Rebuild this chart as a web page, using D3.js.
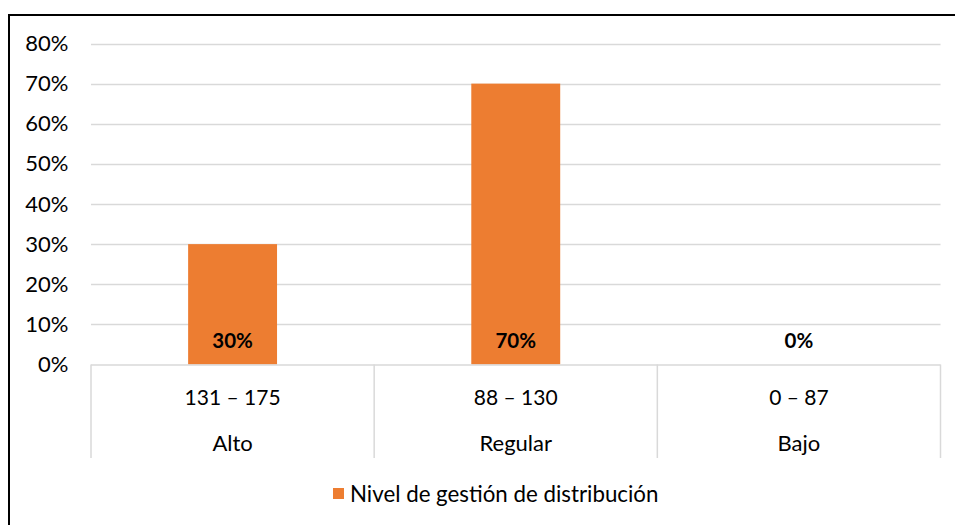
<!DOCTYPE html>
<html><head><meta charset="utf-8">
<script src="https://cdn.jsdelivr.net/npm/d3@7"></script>
<style>body{margin:0;background:#fff}svg{display:block}text{font-family:Lato,"Noto Sans",sans-serif}</style>
</head><body><svg id="c" width="955" height="525"></svg>
<script>
const levels = ["Alto", "Regular", "Bajo"];
const ranges = ["131 – 175", "88 – 130", "0 – 87"];
const values = [0.30, 0.70, 0.00];
const yTicks = [0, 0.1, 0.2, 0.3, 0.4, 0.5, 0.6, 0.7, 0.8];
const seriesName = "Nivel de gestión de distribución";

const svg = d3.select("#c");
const W = 955, H = 525;
svg.append("rect").attr("x", 0).attr("y", 0).attr("width", W).attr("height", H).attr("fill", "#fff");
svg.append("path").attr("d", `M9,${H+5} L9,15 L${W+5},15`).attr("fill", "none").attr("stroke", "#000").attr("stroke-width", 2);

const x = d3.scaleBand().domain(levels).range([91, 940.5]).padding(0);
const y = d3.scaleLinear().domain([0, 0.8]).range([364.5, 43.5]);
const barFrac = 0.314;

svg.append("g").selectAll("line").data(yTicks.filter(d => d > 0)).join("line")
  .attr("x1", 91).attr("x2", 940.5)
  .attr("y1", d => Math.round(y(d)) + 0.5).attr("y2", d => Math.round(y(d)) + 0.5)
  .attr("stroke", "#d9d9d9").attr("stroke-width", 1.5);

const ya = svg.append("g").attr("transform", "translate(68.5,0)")
  .call(d3.axisLeft(y).tickValues(yTicks).tickSize(0).tickPadding(0).tickFormat(d3.format(".0%")));
ya.select(".domain").remove();
ya.selectAll("text").attr("font-size", 22).attr("fill", "#000").attr("font-family", "Lato");

svg.append("g").selectAll("rect").data(levels).join("rect")
  .attr("x", (d) => x(d) + x.bandwidth() * (1 - barFrac) / 2)
  .attr("width", x.bandwidth() * barFrac)
  .attr("y", (d, i) => y(values[i]))
  .attr("height", (d, i) => y(0) - y(values[i]))
  .attr("fill", "#ed7d31");

svg.append("line").attr("x1", 91).attr("x2", 940.5).attr("y1", y(0) + 0.5).attr("y2", y(0) + 0.5)
  .attr("stroke", "#d9d9d9").attr("stroke-width", 1.5);
const bounds = levels.map(d => x(d)).concat([x.range()[1]]);
svg.append("g").selectAll("line").data(bounds).join("line")
  .attr("x1", d => d).attr("x2", d => d).attr("y1", y(0)).attr("y2", 458)
  .attr("stroke", "#d9d9d9").attr("stroke-width", 1.5);

const cx = d => x(d) + x.bandwidth() / 2;
svg.append("g").selectAll("text").data(levels).join("text")
  .attr("x", cx).attr("y", 405).attr("text-anchor", "middle").attr("font-size", 21).attr("fill", "#000")
  .text((d, i) => ranges[i]);
svg.append("g").selectAll("text").data(levels).join("text")
  .attr("x", cx).attr("y", 451).attr("text-anchor", "middle").attr("font-size", 22).attr("fill", "#000")
  .text(d => d);

svg.append("g").selectAll("text").data(levels).join("text")
  .attr("x", cx).attr("y", y(0) - 17).attr("text-anchor", "middle").attr("font-size", 20.5)
  .attr("font-weight", "bold").attr("fill", "#000")
  .text((d, i) => d3.format(".0%")(values[i]));

const lg = svg.append("g");
lg.append("rect").attr("x", 333).attr("y", 488).attr("width", 11).attr("height", 11).attr("fill", "#ed7d31");
lg.append("text").attr("x", 350).attr("y", 501.5).attr("font-size", 22.3).attr("fill", "#000").text(seriesName);
</script></body></html>
